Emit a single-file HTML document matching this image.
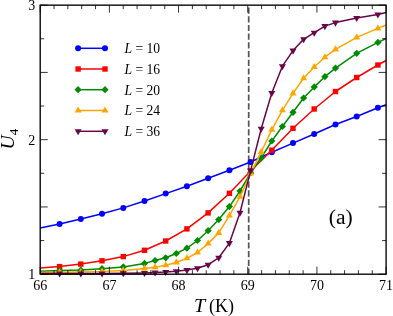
<!DOCTYPE html>
<html><head><meta charset="utf-8"><title>U4 vs T</title>
<style>
html,body{margin:0;padding:0;background:#fff;}
body{width:393px;height:316px;overflow:hidden;}
svg{display:block;will-change:transform;}
text{font-family:"Liberation Serif",serif;fill:#000;}
</style></head><body>
<svg width="393" height="316" viewBox="0 0 393 316">
<rect width="393" height="316" fill="#fff"/>

<line x1="248.7" y1="7.5" x2="248.7" y2="274.2" stroke="#555" stroke-width="1.7" stroke-dasharray="6.2 2.5"/>
<polyline fill="none" stroke="#0000ff" stroke-width="1.5" stroke-linejoin="round" points="40.2,228.0 59.6,223.9 80.8,218.9 102.0,213.8 123.3,207.9 144.5,201.0 165.7,193.6 186.9,186.2 208.1,178.3 229.4,170.2 250.6,162.0 271.8,152.2 293.0,143.1 314.2,134.0 335.5,124.5 356.7,116.5 377.9,107.8 386.1,104.6"/>
<circle cx="59.6" cy="223.9" r="3" fill="#0000ff"/>
<circle cx="80.8" cy="218.9" r="3" fill="#0000ff"/>
<circle cx="102.0" cy="213.8" r="3" fill="#0000ff"/>
<circle cx="123.3" cy="207.9" r="3" fill="#0000ff"/>
<circle cx="144.5" cy="201.0" r="3" fill="#0000ff"/>
<circle cx="165.7" cy="193.6" r="3" fill="#0000ff"/>
<circle cx="186.9" cy="186.2" r="3" fill="#0000ff"/>
<circle cx="208.1" cy="178.3" r="3" fill="#0000ff"/>
<circle cx="229.4" cy="170.2" r="3" fill="#0000ff"/>
<circle cx="250.6" cy="162.0" r="3" fill="#0000ff"/>
<circle cx="271.8" cy="152.2" r="3" fill="#0000ff"/>
<circle cx="293.0" cy="143.1" r="3" fill="#0000ff"/>
<circle cx="314.2" cy="134.0" r="3" fill="#0000ff"/>
<circle cx="335.5" cy="124.5" r="3" fill="#0000ff"/>
<circle cx="356.7" cy="116.5" r="3" fill="#0000ff"/>
<circle cx="377.9" cy="107.8" r="3" fill="#0000ff"/>
<polyline fill="none" stroke="#ff0000" stroke-width="1.5" stroke-linejoin="round" points="40.2,267.9 59.6,266.6 80.8,264.1 102.0,260.8 123.3,256.6 144.5,250.3 165.7,241.0 186.9,228.9 208.1,212.9 229.4,193.3 250.6,171.0 271.8,150.2 293.0,128.3 314.2,109.0 335.5,91.5 356.7,77.5 377.9,65.0 386.1,60.5"/>
<rect x="56.9" y="263.9" width="5.4" height="5.4" fill="#ff0000"/>
<rect x="78.1" y="261.4" width="5.4" height="5.4" fill="#ff0000"/>
<rect x="99.3" y="258.1" width="5.4" height="5.4" fill="#ff0000"/>
<rect x="120.6" y="253.9" width="5.4" height="5.4" fill="#ff0000"/>
<rect x="141.8" y="247.6" width="5.4" height="5.4" fill="#ff0000"/>
<rect x="163.0" y="238.3" width="5.4" height="5.4" fill="#ff0000"/>
<rect x="184.2" y="226.2" width="5.4" height="5.4" fill="#ff0000"/>
<rect x="205.4" y="210.2" width="5.4" height="5.4" fill="#ff0000"/>
<rect x="226.7" y="190.6" width="5.4" height="5.4" fill="#ff0000"/>
<rect x="247.9" y="168.3" width="5.4" height="5.4" fill="#ff0000"/>
<rect x="269.1" y="147.5" width="5.4" height="5.4" fill="#ff0000"/>
<rect x="290.3" y="125.6" width="5.4" height="5.4" fill="#ff0000"/>
<rect x="311.5" y="106.3" width="5.4" height="5.4" fill="#ff0000"/>
<rect x="332.8" y="88.8" width="5.4" height="5.4" fill="#ff0000"/>
<rect x="354.0" y="74.8" width="5.4" height="5.4" fill="#ff0000"/>
<rect x="375.2" y="62.3" width="5.4" height="5.4" fill="#ff0000"/>
<polyline fill="none" stroke="#008b00" stroke-width="1.5" stroke-linejoin="round" points="40.2,271.2 59.6,270.6 80.8,270.0 102.0,268.7 123.3,266.9 144.5,263.4 155.1,260.5 165.7,257.8 176.3,253.5 186.9,248.2 197.5,240.5 208.1,230.7 218.7,219.6 229.4,206.6 240.0,191.0 250.6,173.0 261.2,157.8 271.8,141.0 282.4,126.5 293.0,112.3 303.6,98.0 314.2,86.9 324.9,76.7 335.5,68.1 356.7,53.3 377.9,42.4 386.1,38.5"/>
<path d="M56.0 270.6L59.6 267.0L63.2 270.6L59.6 274.2Z" fill="#008b00"/>
<path d="M77.2 270.0L80.8 266.4L84.4 270.0L80.8 273.6Z" fill="#008b00"/>
<path d="M98.4 268.7L102.0 265.1L105.6 268.7L102.0 272.3Z" fill="#008b00"/>
<path d="M119.7 266.9L123.3 263.3L126.9 266.9L123.3 270.5Z" fill="#008b00"/>
<path d="M140.9 263.4L144.5 259.8L148.1 263.4L144.5 267.0Z" fill="#008b00"/>
<path d="M151.5 260.5L155.1 256.9L158.7 260.5L155.1 264.1Z" fill="#008b00"/>
<path d="M162.1 257.8L165.7 254.2L169.3 257.8L165.7 261.4Z" fill="#008b00"/>
<path d="M172.7 253.5L176.3 249.9L179.9 253.5L176.3 257.1Z" fill="#008b00"/>
<path d="M183.3 248.2L186.9 244.6L190.5 248.2L186.9 251.8Z" fill="#008b00"/>
<path d="M193.9 240.5L197.5 236.9L201.1 240.5L197.5 244.1Z" fill="#008b00"/>
<path d="M204.5 230.7L208.1 227.1L211.7 230.7L208.1 234.3Z" fill="#008b00"/>
<path d="M215.1 219.6L218.7 216.0L222.3 219.6L218.7 223.2Z" fill="#008b00"/>
<path d="M225.8 206.6L229.4 203.0L233.0 206.6L229.4 210.2Z" fill="#008b00"/>
<path d="M236.4 191.0L240.0 187.4L243.6 191.0L240.0 194.6Z" fill="#008b00"/>
<path d="M247.0 173.0L250.6 169.4L254.2 173.0L250.6 176.6Z" fill="#008b00"/>
<path d="M257.6 157.8L261.2 154.2L264.8 157.8L261.2 161.4Z" fill="#008b00"/>
<path d="M268.2 141.0L271.8 137.4L275.4 141.0L271.8 144.6Z" fill="#008b00"/>
<path d="M278.8 126.5L282.4 122.9L286.0 126.5L282.4 130.1Z" fill="#008b00"/>
<path d="M289.4 112.3L293.0 108.7L296.6 112.3L293.0 115.9Z" fill="#008b00"/>
<path d="M300.0 98.0L303.6 94.4L307.2 98.0L303.6 101.6Z" fill="#008b00"/>
<path d="M310.6 86.9L314.2 83.3L317.8 86.9L314.2 90.5Z" fill="#008b00"/>
<path d="M321.2 76.7L324.9 73.1L328.5 76.7L324.9 80.3Z" fill="#008b00"/>
<path d="M331.9 68.1L335.5 64.5L339.1 68.1L335.5 71.7Z" fill="#008b00"/>
<path d="M353.1 53.3L356.7 49.7L360.3 53.3L356.7 56.9Z" fill="#008b00"/>
<path d="M374.3 42.4L377.9 38.8L381.5 42.4L377.9 46.0Z" fill="#008b00"/>
<polyline fill="none" stroke="#ffa500" stroke-width="1.5" stroke-linejoin="round" points="40.2,272.4 59.6,272.2 80.8,272.0 102.0,271.5 123.3,270.5 144.5,268.4 155.1,267.2 165.7,265.2 176.3,262.4 186.9,258.3 197.5,252.5 208.1,243.6 218.7,232.9 229.4,215.6 240.0,196.7 250.6,173.6 261.2,152.0 271.8,129.8 282.4,110.3 293.0,93.4 303.6,78.2 314.2,67.0 324.9,57.2 335.5,49.4 356.7,37.4 377.9,28.4 386.1,25.0"/>
<path d="M56.10 274.22L63.10 274.22L59.60 268.16Z" fill="#ffa500"/>
<path d="M77.32 274.02L84.32 274.02L80.82 267.96Z" fill="#ffa500"/>
<path d="M98.54 273.52L105.54 273.52L102.04 267.46Z" fill="#ffa500"/>
<path d="M119.76 272.52L126.76 272.52L123.26 266.46Z" fill="#ffa500"/>
<path d="M140.98 270.42L147.98 270.42L144.48 264.36Z" fill="#ffa500"/>
<path d="M151.59 269.22L158.59 269.22L155.09 263.16Z" fill="#ffa500"/>
<path d="M162.20 267.22L169.20 267.22L165.70 261.16Z" fill="#ffa500"/>
<path d="M172.81 264.42L179.81 264.42L176.31 258.36Z" fill="#ffa500"/>
<path d="M183.42 260.32L190.42 260.32L186.92 254.26Z" fill="#ffa500"/>
<path d="M194.03 254.52L201.03 254.52L197.53 248.46Z" fill="#ffa500"/>
<path d="M204.64 245.62L211.64 245.62L208.14 239.56Z" fill="#ffa500"/>
<path d="M215.25 234.92L222.25 234.92L218.75 228.86Z" fill="#ffa500"/>
<path d="M225.86 217.62L232.86 217.62L229.36 211.56Z" fill="#ffa500"/>
<path d="M236.47 198.72L243.47 198.72L239.97 192.66Z" fill="#ffa500"/>
<path d="M247.08 175.62L254.08 175.62L250.58 169.56Z" fill="#ffa500"/>
<path d="M257.69 154.02L264.69 154.02L261.19 147.96Z" fill="#ffa500"/>
<path d="M268.30 131.82L275.30 131.82L271.80 125.76Z" fill="#ffa500"/>
<path d="M278.91 112.32L285.91 112.32L282.41 106.26Z" fill="#ffa500"/>
<path d="M289.52 95.42L296.52 95.42L293.02 89.36Z" fill="#ffa500"/>
<path d="M300.13 80.22L307.13 80.22L303.63 74.16Z" fill="#ffa500"/>
<path d="M310.74 69.02L317.74 69.02L314.24 62.96Z" fill="#ffa500"/>
<path d="M321.35 59.22L328.35 59.22L324.85 53.16Z" fill="#ffa500"/>
<path d="M331.96 51.42L338.96 51.42L335.46 45.36Z" fill="#ffa500"/>
<path d="M353.18 39.42L360.18 39.42L356.68 33.36Z" fill="#ffa500"/>
<path d="M374.40 30.42L381.40 30.42L377.90 24.36Z" fill="#ffa500"/>
<polyline fill="none" stroke="#670748" stroke-width="1.5" stroke-linejoin="round" points="40.2,273.6 59.6,273.5 80.8,273.5 102.0,273.5 123.3,273.3 144.5,272.9 155.1,272.5 165.7,272.0 176.3,271.2 186.9,270.1 197.5,268.3 208.1,264.7 218.7,257.8 229.4,243.1 240.0,212.7 250.6,170.6 261.2,128.8 271.8,93.0 282.4,66.2 293.0,50.6 303.6,39.3 314.2,32.7 324.9,26.1 335.5,22.6 356.7,17.9 377.9,14.4 386.1,12.5"/>
<path d="M56.10 271.48L63.10 271.48L59.60 277.54Z" fill="#670748"/>
<path d="M77.32 271.48L84.32 271.48L80.82 277.54Z" fill="#670748"/>
<path d="M98.54 271.48L105.54 271.48L102.04 277.54Z" fill="#670748"/>
<path d="M119.76 271.28L126.76 271.28L123.26 277.34Z" fill="#670748"/>
<path d="M140.98 270.88L147.98 270.88L144.48 276.94Z" fill="#670748"/>
<path d="M151.59 270.48L158.59 270.48L155.09 276.54Z" fill="#670748"/>
<path d="M162.20 269.98L169.20 269.98L165.70 276.04Z" fill="#670748"/>
<path d="M172.81 269.18L179.81 269.18L176.31 275.24Z" fill="#670748"/>
<path d="M183.42 268.08L190.42 268.08L186.92 274.14Z" fill="#670748"/>
<path d="M194.03 266.28L201.03 266.28L197.53 272.34Z" fill="#670748"/>
<path d="M204.64 262.68L211.64 262.68L208.14 268.74Z" fill="#670748"/>
<path d="M215.25 255.78L222.25 255.78L218.75 261.84Z" fill="#670748"/>
<path d="M225.86 241.08L232.86 241.08L229.36 247.14Z" fill="#670748"/>
<path d="M236.47 210.68L243.47 210.68L239.97 216.74Z" fill="#670748"/>
<path d="M247.08 168.58L254.08 168.58L250.58 174.64Z" fill="#670748"/>
<path d="M257.69 126.78L264.69 126.78L261.19 132.84Z" fill="#670748"/>
<path d="M268.30 90.98L275.30 90.98L271.80 97.04Z" fill="#670748"/>
<path d="M278.91 64.18L285.91 64.18L282.41 70.24Z" fill="#670748"/>
<path d="M289.52 48.58L296.52 48.58L293.02 54.64Z" fill="#670748"/>
<path d="M300.13 37.28L307.13 37.28L303.63 43.34Z" fill="#670748"/>
<path d="M310.74 30.68L317.74 30.68L314.24 36.74Z" fill="#670748"/>
<path d="M321.35 24.08L328.35 24.08L324.85 30.14Z" fill="#670748"/>
<path d="M331.96 20.58L338.96 20.58L335.46 26.64Z" fill="#670748"/>
<path d="M353.18 15.88L360.18 15.88L356.68 21.94Z" fill="#670748"/>
<path d="M374.40 12.38L381.40 12.38L377.90 18.44Z" fill="#670748"/>
<path d="M40.20 274.2v-7.5M40.20 5.15v7.5M54.04 274.2v-4M54.04 5.15v4M67.87 274.2v-4M67.87 5.15v4M81.71 274.2v-4M81.71 5.15v4M95.54 274.2v-4M95.54 5.15v4M109.38 274.2v-7.5M109.38 5.15v7.5M123.22 274.2v-4M123.22 5.15v4M137.05 274.2v-4M137.05 5.15v4M150.89 274.2v-4M150.89 5.15v4M164.72 274.2v-4M164.72 5.15v4M178.56 274.2v-7.5M178.56 5.15v7.5M192.40 274.2v-4M192.40 5.15v4M206.23 274.2v-4M206.23 5.15v4M220.07 274.2v-4M220.07 5.15v4M233.90 274.2v-4M233.90 5.15v4M247.74 274.2v-7.5M247.74 5.15v7.5M261.58 274.2v-4M261.58 5.15v4M275.41 274.2v-4M275.41 5.15v4M289.25 274.2v-4M289.25 5.15v4M303.08 274.2v-4M303.08 5.15v4M316.92 274.2v-7.5M316.92 5.15v7.5M330.76 274.2v-4M330.76 5.15v4M344.59 274.2v-4M344.59 5.15v4M358.43 274.2v-4M358.43 5.15v4M372.26 274.2v-4M372.26 5.15v4M386.10 274.2v-7.5M386.10 5.15v7.5M40.2 274.20h7.5M386.1 274.20h-7.5M40.2 240.57h4M386.1 240.57h-4M40.2 206.94h7.5M386.1 206.94h-7.5M40.2 173.31h4M386.1 173.31h-4M40.2 139.67h7.5M386.1 139.67h-7.5M40.2 106.04h4M386.1 106.04h-4M40.2 72.41h7.5M386.1 72.41h-7.5M40.2 38.78h4M386.1 38.78h-4M40.2 5.15h7.5M386.1 5.15h-7.5" stroke="#000" stroke-width="0.8" fill="none"/>
<rect x="40.2" y="5.15" width="345.90000000000003" height="269.05" fill="none" stroke="#000" stroke-width="1.35"/>
<text x="40.2" y="289.7" font-size="14" text-anchor="middle">66</text>
<text x="109.4" y="289.7" font-size="14" text-anchor="middle">67</text>
<text x="178.6" y="289.7" font-size="14" text-anchor="middle">68</text>
<text x="247.7" y="289.7" font-size="14" text-anchor="middle">69</text>
<text x="316.9" y="289.7" font-size="14" text-anchor="middle">70</text>
<text x="386.1" y="289.7" font-size="14" text-anchor="middle">71</text>
<text x="35.2" y="279.2" font-size="14" text-anchor="end">1</text>
<text x="35.2" y="144.7" font-size="14" text-anchor="end">2</text>
<text x="35.2" y="10.1" font-size="14" text-anchor="end">3</text>
<text x="193.9" y="311.5" font-size="18"><tspan font-style="italic" textLength="11.2" lengthAdjust="spacingAndGlyphs">T</tspan><tspan dx="4.0">(K)</tspan></text>
<text transform="translate(14 149.5) rotate(-90) scale(1.07 1)" font-size="18.5" font-style="italic">U<tspan font-size="12.2" dy="3.8" font-style="normal">4</tspan></text>
<text x="328.8" y="223.5" font-size="21.6">(a)</text>
<line x1="78.1" y1="48.3" x2="105.0" y2="48.3" stroke="#0000ff" stroke-width="1.5"/>
<circle cx="78.1" cy="48.3" r="3" fill="#0000ff"/>
<circle cx="105.0" cy="48.3" r="3" fill="#0000ff"/>
<text x="124.5" y="53.1" font-size="13.6"><tspan font-style="italic">L</tspan> = 10</text>
<line x1="78.1" y1="69.0" x2="105.0" y2="69.0" stroke="#ff0000" stroke-width="1.5"/>
<rect x="75.4" y="66.3" width="5.4" height="5.4" fill="#ff0000"/>
<rect x="102.3" y="66.3" width="5.4" height="5.4" fill="#ff0000"/>
<text x="124.5" y="73.8" font-size="13.6"><tspan font-style="italic">L</tspan> = 16</text>
<line x1="78.1" y1="89.7" x2="105.0" y2="89.7" stroke="#008b00" stroke-width="1.5"/>
<path d="M74.5 89.7L78.1 86.1L81.7 89.7L78.1 93.3Z" fill="#008b00"/>
<path d="M101.4 89.7L105.0 86.1L108.6 89.7L105.0 93.3Z" fill="#008b00"/>
<text x="124.5" y="94.5" font-size="13.6"><tspan font-style="italic">L</tspan> = 20</text>
<line x1="78.1" y1="110.5" x2="105.0" y2="110.5" stroke="#ffa500" stroke-width="1.5"/>
<path d="M74.60 112.52L81.60 112.52L78.10 106.46Z" fill="#ffa500"/>
<path d="M101.50 112.52L108.50 112.52L105.00 106.46Z" fill="#ffa500"/>
<text x="124.5" y="115.3" font-size="13.6"><tspan font-style="italic">L</tspan> = 24</text>
<line x1="78.1" y1="131.3" x2="105.0" y2="131.3" stroke="#670748" stroke-width="1.5"/>
<path d="M74.60 129.28L81.60 129.28L78.10 135.34Z" fill="#670748"/>
<path d="M101.50 129.28L108.50 129.28L105.00 135.34Z" fill="#670748"/>
<text x="124.5" y="136.1" font-size="13.6"><tspan font-style="italic">L</tspan> = 36</text>
</svg></body></html>
